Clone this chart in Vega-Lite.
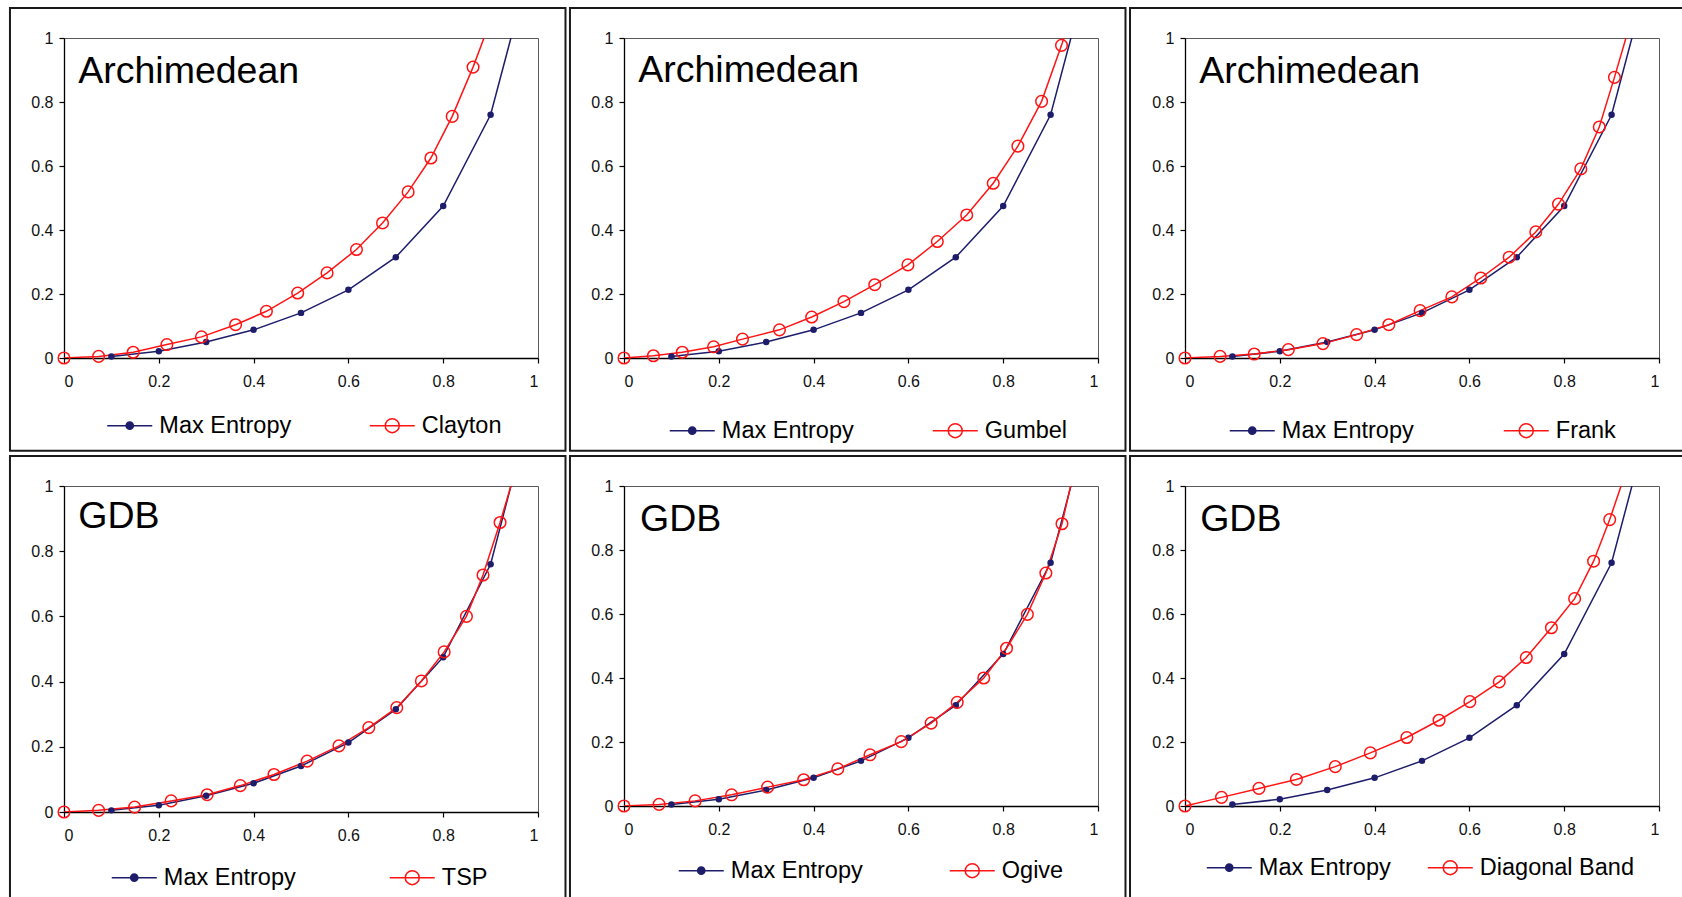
{
  "$schema": "https://vega.github.io/schema/vega-lite/v6.json",
  "padding": {"left": 8, "top": 6, "right": 0, "bottom": 0},
  "background": "white",
  "datasets": {
    "clayton": [
      {"s":"Max Entropy","x":0.1,"y":0.005},{"s":"Max Entropy","x":0.2,"y":0.021},{"s":"Max Entropy","x":0.3,"y":0.05},{"s":"Max Entropy","x":0.4,"y":0.088},{"s":"Max Entropy","x":0.5,"y":0.141},{"s":"Max Entropy","x":0.6,"y":0.213},{"s":"Max Entropy","x":0.7,"y":0.315},{"s":"Max Entropy","x":0.8,"y":0.475},{"s":"Max Entropy","x":0.9,"y":0.76},{"s":"Max Entropy","x":0.95,"y":1.04},
      {"s":"Clayton","x":0,"y":0},{"s":"Clayton","x":0.073,"y":0.005},{"s":"Clayton","x":0.146,"y":0.018},{"s":"Clayton","x":0.217,"y":0.042},{"s":"Clayton","x":0.29,"y":0.066},{"s":"Clayton","x":0.362,"y":0.104},{"s":"Clayton","x":0.427,"y":0.146},{"s":"Clayton","x":0.493,"y":0.203},{"s":"Clayton","x":0.555,"y":0.266},{"s":"Clayton","x":0.617,"y":0.339},{"s":"Clayton","x":0.672,"y":0.422},{"s":"Clayton","x":0.726,"y":0.519},{"s":"Clayton","x":0.774,"y":0.625},{"s":"Clayton","x":0.819,"y":0.755},{"s":"Clayton","x":0.863,"y":0.909},{"s":"Clayton","x":0.905,"y":1.075}
    ],
    "gumbel": [
      {"s":"Max Entropy","x":0.1,"y":0.005},{"s":"Max Entropy","x":0.2,"y":0.021},{"s":"Max Entropy","x":0.3,"y":0.05},{"s":"Max Entropy","x":0.4,"y":0.088},{"s":"Max Entropy","x":0.5,"y":0.141},{"s":"Max Entropy","x":0.6,"y":0.213},{"s":"Max Entropy","x":0.7,"y":0.315},{"s":"Max Entropy","x":0.8,"y":0.475},{"s":"Max Entropy","x":0.9,"y":0.76},{"s":"Max Entropy","x":0.95,"y":1.04},
      {"s":"Gumbel","x":0,"y":0},{"s":"Gumbel","x":0.062,"y":0.007},{"s":"Gumbel","x":0.123,"y":0.018},{"s":"Gumbel","x":0.189,"y":0.035},{"s":"Gumbel","x":0.25,"y":0.059},{"s":"Gumbel","x":0.328,"y":0.088},{"s":"Gumbel","x":0.396,"y":0.128},{"s":"Gumbel","x":0.464,"y":0.176},{"s":"Gumbel","x":0.529,"y":0.229},{"s":"Gumbel","x":0.599,"y":0.291},{"s":"Gumbel","x":0.661,"y":0.364},{"s":"Gumbel","x":0.723,"y":0.447},{"s":"Gumbel","x":0.779,"y":0.546},{"s":"Gumbel","x":0.831,"y":0.662},{"s":"Gumbel","x":0.881,"y":0.802},{"s":"Gumbel","x":0.923,"y":0.977},{"s":"Gumbel","x":0.95,"y":1.1}
    ],
    "frank": [
      {"s":"Max Entropy","x":0.1,"y":0.005},{"s":"Max Entropy","x":0.2,"y":0.021},{"s":"Max Entropy","x":0.3,"y":0.05},{"s":"Max Entropy","x":0.4,"y":0.088},{"s":"Max Entropy","x":0.5,"y":0.141},{"s":"Max Entropy","x":0.6,"y":0.213},{"s":"Max Entropy","x":0.7,"y":0.315},{"s":"Max Entropy","x":0.8,"y":0.475},{"s":"Max Entropy","x":0.9,"y":0.76},{"s":"Max Entropy","x":0.95,"y":1.04},
      {"s":"Frank","x":0,"y":0},{"s":"Frank","x":0.074,"y":0.005},{"s":"Frank","x":0.146,"y":0.0125},{"s":"Frank","x":0.218,"y":0.026},{"s":"Frank","x":0.291,"y":0.045},{"s":"Frank","x":0.362,"y":0.073},{"s":"Frank","x":0.43,"y":0.104},{"s":"Frank","x":0.496,"y":0.148},{"s":"Frank","x":0.563,"y":0.191},{"s":"Frank","x":0.624,"y":0.25},{"s":"Frank","x":0.684,"y":0.315},{"s":"Frank","x":0.74,"y":0.394},{"s":"Frank","x":0.788,"y":0.481},{"s":"Frank","x":0.835,"y":0.591},{"s":"Frank","x":0.874,"y":0.722},{"s":"Frank","x":0.906,"y":0.877},{"s":"Frank","x":0.95,"y":1.1}
    ],
    "tsp": [
      {"s":"Max Entropy","x":0.1,"y":0.005},{"s":"Max Entropy","x":0.2,"y":0.021},{"s":"Max Entropy","x":0.3,"y":0.05},{"s":"Max Entropy","x":0.4,"y":0.088},{"s":"Max Entropy","x":0.5,"y":0.141},{"s":"Max Entropy","x":0.6,"y":0.213},{"s":"Max Entropy","x":0.7,"y":0.315},{"s":"Max Entropy","x":0.8,"y":0.475},{"s":"Max Entropy","x":0.9,"y":0.76},{"s":"Max Entropy","x":0.95,"y":1.04},
      {"s":"TSP","x":0,"y":0},{"s":"TSP","x":0.073,"y":0.005},{"s":"TSP","x":0.149,"y":0.015},{"s":"TSP","x":0.226,"y":0.034},{"s":"TSP","x":0.302,"y":0.053},{"s":"TSP","x":0.372,"y":0.081},{"s":"TSP","x":0.443,"y":0.115},{"s":"TSP","x":0.513,"y":0.156},{"s":"TSP","x":0.58,"y":0.203},{"s":"TSP","x":0.643,"y":0.259},{"s":"TSP","x":0.702,"y":0.32},{"s":"TSP","x":0.754,"y":0.402},{"s":"TSP","x":0.802,"y":0.491},{"s":"TSP","x":0.849,"y":0.6},{"s":"TSP","x":0.884,"y":0.727},{"s":"TSP","x":0.92,"y":0.888},{"s":"TSP","x":0.95,"y":1.035}
    ],
    "ogive": [
      {"s":"Max Entropy","x":0.1,"y":0.005},{"s":"Max Entropy","x":0.2,"y":0.021},{"s":"Max Entropy","x":0.3,"y":0.05},{"s":"Max Entropy","x":0.4,"y":0.088},{"s":"Max Entropy","x":0.5,"y":0.141},{"s":"Max Entropy","x":0.6,"y":0.213},{"s":"Max Entropy","x":0.7,"y":0.315},{"s":"Max Entropy","x":0.8,"y":0.475},{"s":"Max Entropy","x":0.9,"y":0.76},{"s":"Max Entropy","x":0.95,"y":1.04},
      {"s":"Ogive","x":0,"y":0},{"s":"Ogive","x":0.074,"y":0.005},{"s":"Ogive","x":0.15,"y":0.016},{"s":"Ogive","x":0.227,"y":0.035},{"s":"Ogive","x":0.303,"y":0.059},{"s":"Ogive","x":0.379,"y":0.082},{"s":"Ogive","x":0.451,"y":0.116},{"s":"Ogive","x":0.519,"y":0.16},{"s":"Ogive","x":0.585,"y":0.201},{"s":"Ogive","x":0.648,"y":0.259},{"s":"Ogive","x":0.703,"y":0.324},{"s":"Ogive","x":0.759,"y":0.4},{"s":"Ogive","x":0.807,"y":0.493},{"s":"Ogive","x":0.851,"y":0.599},{"s":"Ogive","x":0.89,"y":0.728},{"s":"Ogive","x":0.924,"y":0.882},{"s":"Ogive","x":0.95,"y":1.05}
    ],
    "band": [
      {"s":"Max Entropy","x":0.1,"y":0.005},{"s":"Max Entropy","x":0.2,"y":0.021},{"s":"Max Entropy","x":0.3,"y":0.05},{"s":"Max Entropy","x":0.4,"y":0.088},{"s":"Max Entropy","x":0.5,"y":0.141},{"s":"Max Entropy","x":0.6,"y":0.213},{"s":"Max Entropy","x":0.7,"y":0.315},{"s":"Max Entropy","x":0.8,"y":0.475},{"s":"Max Entropy","x":0.9,"y":0.76},{"s":"Max Entropy","x":0.95,"y":1.04},
      {"s":"Diagonal Band","x":0,"y":0},{"s":"Diagonal Band","x":0.077,"y":0.027},{"s":"Diagonal Band","x":0.156,"y":0.055},{"s":"Diagonal Band","x":0.235,"y":0.083},{"s":"Diagonal Band","x":0.317,"y":0.123},{"s":"Diagonal Band","x":0.391,"y":0.166},{"s":"Diagonal Band","x":0.468,"y":0.214},{"s":"Diagonal Band","x":0.536,"y":0.268},{"s":"Diagonal Band","x":0.601,"y":0.326},{"s":"Diagonal Band","x":0.663,"y":0.388},{"s":"Diagonal Band","x":0.72,"y":0.464},{"s":"Diagonal Band","x":0.773,"y":0.557},{"s":"Diagonal Band","x":0.822,"y":0.648},{"s":"Diagonal Band","x":0.862,"y":0.765},{"s":"Diagonal Band","x":0.896,"y":0.895},{"s":"Diagonal Band","x":0.94,"y":1.088}
    ]
  },
  "spacing": 1,
  "resolve": {"scale": {"color": "independent"}, "legend": {"color": "independent"}},
  "vconcat": [
    {
      "spacing": 1,
      "resolve": {"scale": {"color": "independent"}, "legend": {"color": "independent"}},
      "hconcat": [
        {
          "width": 474, "height": 320,
          "data": {"name": "clayton"},
          "layer": [
            {"data": {"values": [{}]}, "mark": {"type": "rect", "filled": false, "stroke": "#1a1a1a", "strokeWidth": 2, "clip": false},
             "encoding": {"x": {"datum": -0.114, "type": "quantitative", "scale": {"domain": [0, 1], "nice": false}, "title": null}, "x2": {"datum": 1.058},
                          "y": {"datum": -0.29, "type": "quantitative", "scale": {"domain": [0, 1], "nice": false}, "title": null}, "y2": {"datum": 1.094}}},
            {"mark": {"type": "line", "strokeWidth": 1.5, "clip": true},
             "encoding": {
               "x": {"field": "x", "type": "quantitative", "scale": {"domain": [0, 1], "nice": false}, "axis": {"format": "~g", "tickCount": 5}, "title": null},
               "y": {"field": "y", "type": "quantitative", "scale": {"domain": [0, 1], "nice": false}, "axis": {"format": "~g", "tickCount": 5}, "title": null},
               "color": {"field": "s", "type": "nominal", "scale": {"domain": ["Max Entropy", "Clayton"], "range": ["#1d1d6b", "#ff1414"]},
                 "legend": {"title": null, "orient": "none", "legendX": 54, "legendY": 375.5, "columnPadding": 74.5,
                   "encode": {"symbols": {"update": {
                     "shape": {"signal": "datum.value === 'Max Entropy' ? 'M-2.25,0L2.25,0M-0.36,0A0.36,0.36,0,1,1,0.36,0A0.36,0.36,0,1,1,-0.36,0Z' : 'M-2.25,0L2.25,0M-0.7,0A0.7,0.7,0,1,1,0.7,0A0.7,0.7,0,1,1,-0.7,0Z'"},
                     "fill": {"signal": "datum.value === 'Max Entropy' ? '#1d1d6b' : '#ffffff'"},
                     "fillOpacity": {"signal": "datum.value === 'Max Entropy' ? 1 : 0"},
                     "stroke": {"signal": "datum.value === 'Max Entropy' ? '#1d1d6b' : '#ff1414'"},
                     "strokeWidth": {"value": 1.5}, "opacity": {"value": 1}}}}}}}},
            {"transform": [{"filter": "datum.s === 'Max Entropy' && datum.y <= 1"}], "mark": {"type": "point", "filled": true, "size": 42, "opacity": 1},
             "encoding": {"x": {"field": "x", "type": "quantitative", "title": null}, "y": {"field": "y", "type": "quantitative", "title": null}, "color": {"field": "s", "type": "nominal"}}},
            {"transform": [{"filter": "datum.s !== 'Max Entropy' && datum.y <= 1"}], "mark": {"type": "point", "filled": false, "size": 135, "strokeWidth": 1.5, "opacity": 1},
             "encoding": {"x": {"field": "x", "type": "quantitative", "title": null}, "y": {"field": "y", "type": "quantitative", "title": null}, "color": {"field": "s", "type": "nominal"}}},
            {"data": {"values": [{}]}, "mark": {"type": "text", "align": "left", "baseline": "alphabetic", "fontSize": 37.5, "font": "Liberation Sans", "color": "#000"},
             "encoding": {"x": {"datum": 0.03, "type": "quantitative", "title": null}, "y": {"datum": 0.86, "type": "quantitative", "title": null}, "text": {"value": "Archimedean"}}}
          ]
        },
        {
          "width": 474, "height": 320,
          "data": {"name": "gumbel"},
          "layer": [
            {"data": {"values": [{}]}, "mark": {"type": "rect", "filled": false, "stroke": "#1a1a1a", "strokeWidth": 2, "clip": false},
             "encoding": {"x": {"datum": -0.114, "type": "quantitative", "scale": {"domain": [0, 1], "nice": false}, "title": null}, "x2": {"datum": 1.058},
                          "y": {"datum": -0.29, "type": "quantitative", "scale": {"domain": [0, 1], "nice": false}, "title": null}, "y2": {"datum": 1.094}}},
            {"mark": {"type": "line", "strokeWidth": 1.5, "clip": true},
             "encoding": {
               "x": {"field": "x", "type": "quantitative", "scale": {"domain": [0, 1], "nice": false}, "axis": {"format": "~g", "tickCount": 5}, "title": null},
               "y": {"field": "y", "type": "quantitative", "scale": {"domain": [0, 1], "nice": false}, "axis": {"format": "~g", "tickCount": 5}, "title": null},
               "color": {"field": "s", "type": "nominal", "scale": {"domain": ["Max Entropy", "Gumbel"], "range": ["#1d1d6b", "#ff1414"]},
                 "legend": {"title": null, "orient": "none", "legendX": 56.5, "legendY": 380.5, "columnPadding": 75,
                   "encode": {"symbols": {"update": {
                     "shape": {"signal": "datum.value === 'Max Entropy' ? 'M-2.25,0L2.25,0M-0.36,0A0.36,0.36,0,1,1,0.36,0A0.36,0.36,0,1,1,-0.36,0Z' : 'M-2.25,0L2.25,0M-0.7,0A0.7,0.7,0,1,1,0.7,0A0.7,0.7,0,1,1,-0.7,0Z'"},
                     "fill": {"signal": "datum.value === 'Max Entropy' ? '#1d1d6b' : '#ffffff'"},
                     "fillOpacity": {"signal": "datum.value === 'Max Entropy' ? 1 : 0"},
                     "stroke": {"signal": "datum.value === 'Max Entropy' ? '#1d1d6b' : '#ff1414'"},
                     "strokeWidth": {"value": 1.5}, "opacity": {"value": 1}}}}}}}},
            {"transform": [{"filter": "datum.s === 'Max Entropy' && datum.y <= 1"}], "mark": {"type": "point", "filled": true, "size": 42, "opacity": 1},
             "encoding": {"x": {"field": "x", "type": "quantitative", "title": null}, "y": {"field": "y", "type": "quantitative", "title": null}, "color": {"field": "s", "type": "nominal"}}},
            {"transform": [{"filter": "datum.s !== 'Max Entropy' && datum.y <= 1"}], "mark": {"type": "point", "filled": false, "size": 135, "strokeWidth": 1.5, "opacity": 1},
             "encoding": {"x": {"field": "x", "type": "quantitative", "title": null}, "y": {"field": "y", "type": "quantitative", "title": null}, "color": {"field": "s", "type": "nominal"}}},
            {"data": {"values": [{}]}, "mark": {"type": "text", "align": "left", "baseline": "alphabetic", "fontSize": 37.5, "font": "Liberation Sans", "color": "#000"},
             "encoding": {"x": {"datum": 0.03, "type": "quantitative", "title": null}, "y": {"datum": 0.863, "type": "quantitative", "title": null}, "text": {"value": "Archimedean"}}}
          ]
        },
        {
          "width": 474, "height": 320,
          "data": {"name": "frank"},
          "layer": [
            {"data": {"values": [{}]}, "mark": {"type": "rect", "filled": false, "stroke": "#1a1a1a", "strokeWidth": 2, "clip": false},
             "encoding": {"x": {"datum": -0.116, "type": "quantitative", "scale": {"domain": [0, 1], "nice": false}, "title": null}, "x2": {"datum": 1.058},
                          "y": {"datum": -0.29, "type": "quantitative", "scale": {"domain": [0, 1], "nice": false}, "title": null}, "y2": {"datum": 1.094}}},
            {"mark": {"type": "line", "strokeWidth": 1.5, "clip": true},
             "encoding": {
               "x": {"field": "x", "type": "quantitative", "scale": {"domain": [0, 1], "nice": false}, "axis": {"format": "~g", "tickCount": 5}, "title": null},
               "y": {"field": "y", "type": "quantitative", "scale": {"domain": [0, 1], "nice": false}, "axis": {"format": "~g", "tickCount": 5}, "title": null},
               "color": {"field": "s", "type": "nominal", "scale": {"domain": ["Max Entropy", "Frank"], "range": ["#1d1d6b", "#ff1414"]},
                 "legend": {"title": null, "orient": "none", "legendX": 55.5, "legendY": 380.5, "columnPadding": 86,
                   "encode": {"symbols": {"update": {
                     "shape": {"signal": "datum.value === 'Max Entropy' ? 'M-2.25,0L2.25,0M-0.36,0A0.36,0.36,0,1,1,0.36,0A0.36,0.36,0,1,1,-0.36,0Z' : 'M-2.25,0L2.25,0M-0.7,0A0.7,0.7,0,1,1,0.7,0A0.7,0.7,0,1,1,-0.7,0Z'"},
                     "fill": {"signal": "datum.value === 'Max Entropy' ? '#1d1d6b' : '#ffffff'"},
                     "fillOpacity": {"signal": "datum.value === 'Max Entropy' ? 1 : 0"},
                     "stroke": {"signal": "datum.value === 'Max Entropy' ? '#1d1d6b' : '#ff1414'"},
                     "strokeWidth": {"value": 1.5}, "opacity": {"value": 1}}}}}}}},
            {"transform": [{"filter": "datum.s === 'Max Entropy' && datum.y <= 1"}], "mark": {"type": "point", "filled": true, "size": 42, "opacity": 1},
             "encoding": {"x": {"field": "x", "type": "quantitative", "title": null}, "y": {"field": "y", "type": "quantitative", "title": null}, "color": {"field": "s", "type": "nominal"}}},
            {"transform": [{"filter": "datum.s !== 'Max Entropy' && datum.y <= 1"}], "mark": {"type": "point", "filled": false, "size": 135, "strokeWidth": 1.5, "opacity": 1},
             "encoding": {"x": {"field": "x", "type": "quantitative", "title": null}, "y": {"field": "y", "type": "quantitative", "title": null}, "color": {"field": "s", "type": "nominal"}}},
            {"data": {"values": [{}]}, "mark": {"type": "text", "align": "left", "baseline": "alphabetic", "fontSize": 37.5, "font": "Liberation Sans", "color": "#000"},
             "encoding": {"x": {"datum": 0.03, "type": "quantitative", "title": null}, "y": {"datum": 0.86, "type": "quantitative", "title": null}, "text": {"value": "Archimedean"}}}
          ]
        }
      ]
    },
    {
      "spacing": 1,
      "resolve": {"scale": {"color": "independent"}, "legend": {"color": "independent"}},
      "hconcat": [
        {
          "width": 474, "height": 326,
          "data": {"name": "tsp"},
          "layer": [
            {"data": {"values": [{}]}, "mark": {"type": "rect", "filled": false, "stroke": "#1a1a1a", "strokeWidth": 2, "clip": false},
             "encoding": {"x": {"datum": -0.114, "type": "quantitative", "scale": {"domain": [0, 1], "nice": false}, "title": null}, "x2": {"datum": 1.058},
                          "y": {"datum": -0.29, "type": "quantitative", "scale": {"domain": [0, 1], "nice": false}, "title": null}, "y2": {"datum": 1.092}}},
            {"mark": {"type": "line", "strokeWidth": 1.5, "clip": true},
             "encoding": {
               "x": {"field": "x", "type": "quantitative", "scale": {"domain": [0, 1], "nice": false}, "axis": {"format": "~g", "tickCount": 5}, "title": null},
               "y": {"field": "y", "type": "quantitative", "scale": {"domain": [0, 1], "nice": false}, "axis": {"format": "~g", "tickCount": 5}, "title": null},
               "color": {"field": "s", "type": "nominal", "scale": {"domain": ["Max Entropy", "TSP"], "range": ["#1d1d6b", "#ff1414"]},
                 "legend": {"title": null, "orient": "none", "legendX": 58.5, "legendY": 379.5, "columnPadding": 90,
                   "encode": {"symbols": {"update": {
                     "shape": {"signal": "datum.value === 'Max Entropy' ? 'M-2.25,0L2.25,0M-0.36,0A0.36,0.36,0,1,1,0.36,0A0.36,0.36,0,1,1,-0.36,0Z' : 'M-2.25,0L2.25,0M-0.7,0A0.7,0.7,0,1,1,0.7,0A0.7,0.7,0,1,1,-0.7,0Z'"},
                     "fill": {"signal": "datum.value === 'Max Entropy' ? '#1d1d6b' : '#ffffff'"},
                     "fillOpacity": {"signal": "datum.value === 'Max Entropy' ? 1 : 0"},
                     "stroke": {"signal": "datum.value === 'Max Entropy' ? '#1d1d6b' : '#ff1414'"},
                     "strokeWidth": {"value": 1.5}, "opacity": {"value": 1}}}}}}}},
            {"transform": [{"filter": "datum.s === 'Max Entropy' && datum.y <= 1"}], "mark": {"type": "point", "filled": true, "size": 42, "opacity": 1},
             "encoding": {"x": {"field": "x", "type": "quantitative", "title": null}, "y": {"field": "y", "type": "quantitative", "title": null}, "color": {"field": "s", "type": "nominal"}}},
            {"transform": [{"filter": "datum.s !== 'Max Entropy' && datum.y <= 1"}], "mark": {"type": "point", "filled": false, "size": 135, "strokeWidth": 1.5, "opacity": 1},
             "encoding": {"x": {"field": "x", "type": "quantitative", "title": null}, "y": {"field": "y", "type": "quantitative", "title": null}, "color": {"field": "s", "type": "nominal"}}},
            {"data": {"values": [{}]}, "mark": {"type": "text", "align": "left", "baseline": "alphabetic", "fontSize": 37.5, "font": "Liberation Sans", "color": "#000"},
             "encoding": {"x": {"datum": 0.03, "type": "quantitative", "title": null}, "y": {"datum": 0.872, "type": "quantitative", "title": null}, "text": {"value": "GDB"}}}
          ]
        },
        {
          "width": 474, "height": 320,
          "data": {"name": "ogive"},
          "layer": [
            {"data": {"values": [{}]}, "mark": {"type": "rect", "filled": false, "stroke": "#1a1a1a", "strokeWidth": 2, "clip": false},
             "encoding": {"x": {"datum": -0.114, "type": "quantitative", "scale": {"domain": [0, 1], "nice": false}, "title": null}, "x2": {"datum": 1.058},
                          "y": {"datum": -0.3, "type": "quantitative", "scale": {"domain": [0, 1], "nice": false}, "title": null}, "y2": {"datum": 1.094}}},
            {"mark": {"type": "line", "strokeWidth": 1.5, "clip": true},
             "encoding": {
               "x": {"field": "x", "type": "quantitative", "scale": {"domain": [0, 1], "nice": false}, "axis": {"format": "~g", "tickCount": 5}, "title": null},
               "y": {"field": "y", "type": "quantitative", "scale": {"domain": [0, 1], "nice": false}, "axis": {"format": "~g", "tickCount": 5}, "title": null},
               "color": {"field": "s", "type": "nominal", "scale": {"domain": ["Max Entropy", "Ogive"], "range": ["#1d1d6b", "#ff1414"]},
                 "legend": {"title": null, "orient": "none", "legendX": 65.5, "legendY": 372.5, "columnPadding": 83,
                   "encode": {"symbols": {"update": {
                     "shape": {"signal": "datum.value === 'Max Entropy' ? 'M-2.25,0L2.25,0M-0.36,0A0.36,0.36,0,1,1,0.36,0A0.36,0.36,0,1,1,-0.36,0Z' : 'M-2.25,0L2.25,0M-0.7,0A0.7,0.7,0,1,1,0.7,0A0.7,0.7,0,1,1,-0.7,0Z'"},
                     "fill": {"signal": "datum.value === 'Max Entropy' ? '#1d1d6b' : '#ffffff'"},
                     "fillOpacity": {"signal": "datum.value === 'Max Entropy' ? 1 : 0"},
                     "stroke": {"signal": "datum.value === 'Max Entropy' ? '#1d1d6b' : '#ff1414'"},
                     "strokeWidth": {"value": 1.5}, "opacity": {"value": 1}}}}}}}},
            {"transform": [{"filter": "datum.s === 'Max Entropy' && datum.y <= 1"}], "mark": {"type": "point", "filled": true, "size": 42, "opacity": 1},
             "encoding": {"x": {"field": "x", "type": "quantitative", "title": null}, "y": {"field": "y", "type": "quantitative", "title": null}, "color": {"field": "s", "type": "nominal"}}},
            {"transform": [{"filter": "datum.s !== 'Max Entropy' && datum.y <= 1"}], "mark": {"type": "point", "filled": false, "size": 135, "strokeWidth": 1.5, "opacity": 1},
             "encoding": {"x": {"field": "x", "type": "quantitative", "title": null}, "y": {"field": "y", "type": "quantitative", "title": null}, "color": {"field": "s", "type": "nominal"}}},
            {"data": {"values": [{}]}, "mark": {"type": "text", "align": "left", "baseline": "alphabetic", "fontSize": 37.5, "font": "Liberation Sans", "color": "#000"},
             "encoding": {"x": {"datum": 0.034, "type": "quantitative", "title": null}, "y": {"datum": 0.86, "type": "quantitative", "title": null}, "text": {"value": "GDB"}}}
          ]
        },
        {
          "width": 474, "height": 320,
          "data": {"name": "band"},
          "layer": [
            {"data": {"values": [{}]}, "mark": {"type": "rect", "filled": false, "stroke": "#1a1a1a", "strokeWidth": 2, "clip": false},
             "encoding": {"x": {"datum": -0.116, "type": "quantitative", "scale": {"domain": [0, 1], "nice": false}, "title": null}, "x2": {"datum": 1.058},
                          "y": {"datum": -0.3, "type": "quantitative", "scale": {"domain": [0, 1], "nice": false}, "title": null}, "y2": {"datum": 1.094}}},
            {"mark": {"type": "line", "strokeWidth": 1.5, "clip": true},
             "encoding": {
               "x": {"field": "x", "type": "quantitative", "scale": {"domain": [0, 1], "nice": false}, "axis": {"format": "~g", "tickCount": 5}, "title": null},
               "y": {"field": "y", "type": "quantitative", "scale": {"domain": [0, 1], "nice": false}, "axis": {"format": "~g", "tickCount": 5}, "title": null},
               "color": {"field": "s", "type": "nominal", "scale": {"domain": ["Max Entropy", "Diagonal Band"], "range": ["#1d1d6b", "#ff1414"]},
                 "legend": {"title": null, "orient": "none", "legendX": 32.5, "legendY": 369.5, "columnPadding": 33,
                   "encode": {"symbols": {"update": {
                     "shape": {"signal": "datum.value === 'Max Entropy' ? 'M-2.25,0L2.25,0M-0.36,0A0.36,0.36,0,1,1,0.36,0A0.36,0.36,0,1,1,-0.36,0Z' : 'M-2.25,0L2.25,0M-0.7,0A0.7,0.7,0,1,1,0.7,0A0.7,0.7,0,1,1,-0.7,0Z'"},
                     "fill": {"signal": "datum.value === 'Max Entropy' ? '#1d1d6b' : '#ffffff'"},
                     "fillOpacity": {"signal": "datum.value === 'Max Entropy' ? 1 : 0"},
                     "stroke": {"signal": "datum.value === 'Max Entropy' ? '#1d1d6b' : '#ff1414'"},
                     "strokeWidth": {"value": 1.5}, "opacity": {"value": 1}}}}}}}},
            {"transform": [{"filter": "datum.s === 'Max Entropy' && datum.y <= 1"}], "mark": {"type": "point", "filled": true, "size": 42, "opacity": 1},
             "encoding": {"x": {"field": "x", "type": "quantitative", "title": null}, "y": {"field": "y", "type": "quantitative", "title": null}, "color": {"field": "s", "type": "nominal"}}},
            {"transform": [{"filter": "datum.s !== 'Max Entropy' && datum.y <= 1"}], "mark": {"type": "point", "filled": false, "size": 135, "strokeWidth": 1.5, "opacity": 1},
             "encoding": {"x": {"field": "x", "type": "quantitative", "title": null}, "y": {"field": "y", "type": "quantitative", "title": null}, "color": {"field": "s", "type": "nominal"}}},
            {"data": {"values": [{}]}, "mark": {"type": "text", "align": "left", "baseline": "alphabetic", "fontSize": 37.5, "font": "Liberation Sans", "color": "#000"},
             "encoding": {"x": {"datum": 0.032, "type": "quantitative", "title": null}, "y": {"datum": 0.86, "type": "quantitative", "title": null}, "text": {"value": "GDB"}}}
          ]
        }
      ]
    }
  ],
  "config": {
    "font": "Liberation Sans",
    "view": {"stroke": "#5a5a5a", "strokeWidth": 1},
    "axis": {"grid": false, "domainColor": "#000", "domainWidth": 1.3, "tickColor": "#000", "tickWidth": 1.2, "tickSize": 5,
             "labelFont": "Liberation Sans", "labelFontSize": 16, "labelColor": "#111"},
    "axisX": {"labelPadding": 10},
    "axisY": {"labelPadding": 6},
    "legend": {"padding": 0, "direction": "horizontal", "symbolType": "M-2.25,0L2.25,0M-0.7,0A0.7,0.7,0,1,1,0.7,0A0.7,0.7,0,1,1,-0.7,0Z",
               "symbolSize": 400, "symbolStrokeWidth": 1.5, "labelFont": "Liberation Sans", "labelFontSize": 23.5, "labelColor": "#000",
               "labelOffset": 17.8, "labelLimit": 400}
  }
}
